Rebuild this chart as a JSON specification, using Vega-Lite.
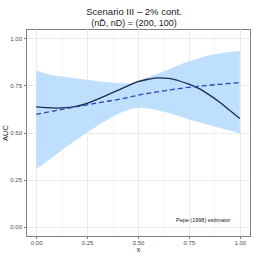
{
  "$schema": "https://vega.github.io/schema/vega-lite/v6.json",
  "autosize": "none",
  "width": 224,
  "height": 207,
  "padding": {"left": 26, "top": 29, "right": 4, "bottom": 18},
  "background": "white",
  "title": {
    "text": "Scenario III – 2% cont.",
    "subtitle": "(nD̄, nD) = (200, 100)",
    "anchor": "middle",
    "frame": "group",
    "dx": -4,
    "offset": 1,
    "font": "Liberation Sans",
    "fontSize": 9.5,
    "fontWeight": "normal",
    "color": "#1a1a1a",
    "subtitleFont": "Liberation Sans",
    "subtitleFontSize": 9,
    "subtitleColor": "#1a1a1a",
    "subtitlePadding": 3
  },
  "config": {
    "view": {"stroke": "#7f7f7f", "strokeWidth": 1},
    "axis": {
      "labelFont": "Liberation Sans",
      "titleFont": "Liberation Sans",
      "labelFontSize": 6,
      "labelColor": "#4d4d4d",
      "titleFontSize": 7.5,
      "titleFontWeight": "normal",
      "titleColor": "#1a1a1a",
      "domainColor": "#7f7f7f",
      "tickColor": "#7f7f7f",
      "tickSize": 2.5,
      "labelPadding": 2
    }
  },
  "data": {
    "values": [
      {"x": 0.00, "lo": 0.306, "hi": 0.830, "s": 0.636, "d": 0.596},
      {"x": 0.05, "lo": 0.345, "hi": 0.812, "s": 0.632, "d": 0.607},
      {"x": 0.10, "lo": 0.385, "hi": 0.800, "s": 0.630, "d": 0.617},
      {"x": 0.15, "lo": 0.425, "hi": 0.795, "s": 0.632, "d": 0.627},
      {"x": 0.20, "lo": 0.463, "hi": 0.787, "s": 0.640, "d": 0.637},
      {"x": 0.25, "lo": 0.500, "hi": 0.780, "s": 0.655, "d": 0.647},
      {"x": 0.30, "lo": 0.535, "hi": 0.772, "s": 0.676, "d": 0.657},
      {"x": 0.35, "lo": 0.568, "hi": 0.767, "s": 0.700, "d": 0.666},
      {"x": 0.40, "lo": 0.598, "hi": 0.762, "s": 0.724, "d": 0.675},
      {"x": 0.45, "lo": 0.620, "hi": 0.762, "s": 0.748, "d": 0.686},
      {"x": 0.50, "lo": 0.630, "hi": 0.775, "s": 0.770, "d": 0.698},
      {"x": 0.55, "lo": 0.628, "hi": 0.795, "s": 0.783, "d": 0.708},
      {"x": 0.60, "lo": 0.617, "hi": 0.815, "s": 0.790, "d": 0.717},
      {"x": 0.65, "lo": 0.603, "hi": 0.835, "s": 0.788, "d": 0.725},
      {"x": 0.70, "lo": 0.588, "hi": 0.858, "s": 0.775, "d": 0.733},
      {"x": 0.75, "lo": 0.570, "hi": 0.878, "s": 0.757, "d": 0.740},
      {"x": 0.80, "lo": 0.555, "hi": 0.895, "s": 0.733, "d": 0.746},
      {"x": 0.85, "lo": 0.540, "hi": 0.910, "s": 0.700, "d": 0.751},
      {"x": 0.90, "lo": 0.525, "hi": 0.920, "s": 0.662, "d": 0.756},
      {"x": 0.95, "lo": 0.510, "hi": 0.928, "s": 0.618, "d": 0.761},
      {"x": 1.00, "lo": 0.495, "hi": 0.933, "s": 0.574, "d": 0.765}
    ]
  },
  "encoding": {
    "x": {
      "field": "x", "type": "quantitative",
      "scale": {"domain": [-0.05, 1.05], "nice": false, "zero": false},
      "axis": {
        "title": "x",
        "titleFontSize": 7,
        "titlePadding": 0,
        "labelPadding": 1,
        "values": [0, 0.125, 0.25, 0.375, 0.5, 0.625, 0.75, 0.875, 1],
        "labelExpr": "(datum.value * 4) % 1 == 0 ? format(datum.value, '.2f') : ''",
        "tickOpacity": {"condition": {"test": "(datum.value * 4) % 1 != 0", "value": 0}, "value": 1},
        "grid": true,
        "gridColor": "#ebebeb",
        "gridWidth": {"condition": {"test": "(datum.value * 4) % 1 != 0", "value": 0.5}, "value": 1}
      }
    }
  },
  "layer": [
    {
      "mark": {"type": "area", "color": "#bfdfff", "opacity": 1, "interpolate": "monotone"},
      "encoding": {
        "y": {
          "field": "hi", "type": "quantitative",
          "scale": {"domain": [-0.05, 1.05], "nice": false, "zero": false},
          "axis": {
            "title": "AUC",
            "titlePadding": 0,
            "values": [0, 0.125, 0.25, 0.375, 0.5, 0.625, 0.75, 0.875, 1],
            "labelExpr": "(datum.value * 4) % 1 == 0 ? format(datum.value, '.2f') : ''",
            "tickOpacity": {"condition": {"test": "(datum.value * 4) % 1 != 0", "value": 0}, "value": 1},
            "grid": true,
            "gridColor": "#ebebeb",
            "gridWidth": {"condition": {"test": "(datum.value * 4) % 1 != 0", "value": 0.5}, "value": 1}
          }
        },
        "y2": {"field": "lo"}
      }
    },
    {
      "mark": {"type": "line", "color": "#1c2b4b", "strokeWidth": 1.3, "interpolate": "monotone"},
      "encoding": {"y": {"field": "s", "type": "quantitative"}}
    },
    {
      "mark": {"type": "line", "color": "#2a45b5", "strokeWidth": 1.3, "strokeDash": [5, 3], "interpolate": "monotone"},
      "encoding": {"y": {"field": "d", "type": "quantitative"}}
    },
    {
      "data": {"values": [{"x": 0.82, "y": 0.02, "label": "Pepe (1998) estimator"}]},
      "mark": {"type": "text", "font": "Liberation Sans", "fontSize": 5.5, "color": "#1a1a1a", "align": "center", "baseline": "bottom"},
      "encoding": {
        "x": {"field": "x", "type": "quantitative"},
        "y": {"field": "y", "type": "quantitative"},
        "text": {"field": "label"}
      }
    }
  ]
}
